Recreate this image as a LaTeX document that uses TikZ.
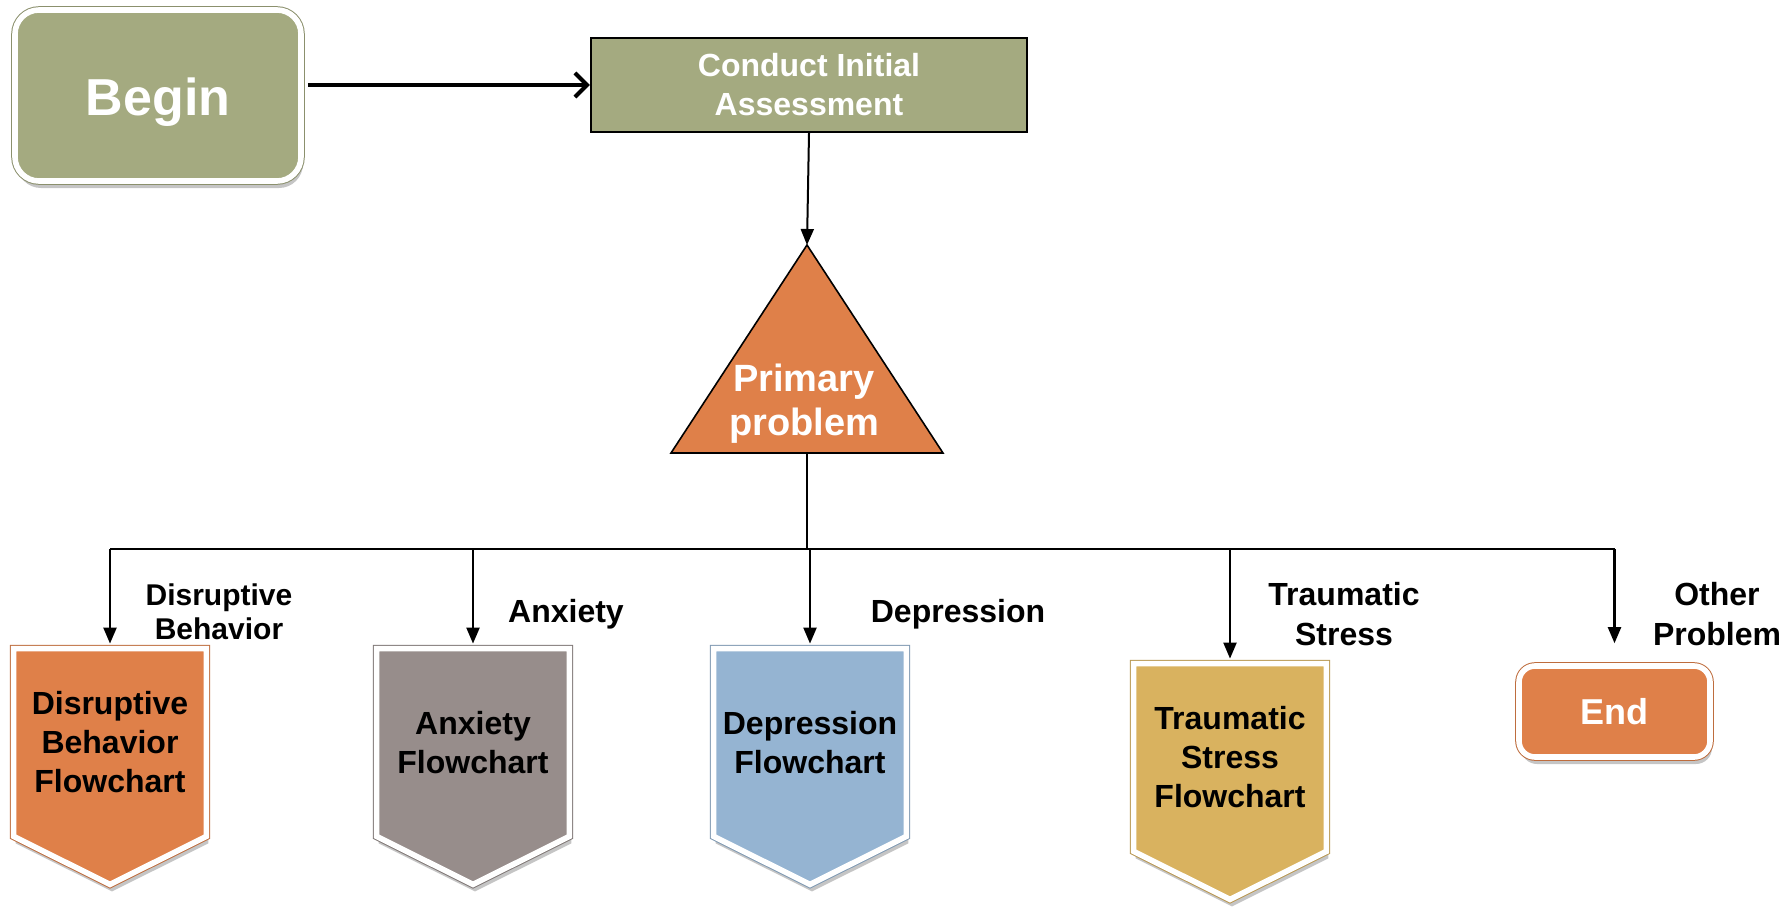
\documentclass[tikz,border=0pt]{standalone}
\usepackage{fontspec}
\setmainfont{Liberation Sans}
\usetikzlibrary{arrows.meta,shadows,calc,backgrounds}

\definecolor{cGreen}{HTML}{A4AA80}
\definecolor{cOrange}{HTML}{DF8049}
\definecolor{cGray}{HTML}{978D8B}
\definecolor{cBlue}{HTML}{95B4D2}
\definecolor{cGold}{HTML}{D9B25F}

\begin{document}
\begin{tikzpicture}[x=0.5pt,y=-0.5pt,
  framed/.style={fill=#1, draw=white, line width=2.8pt,
    drop shadow={opacity=0.5, fill=black!45, shadow xshift=1pt, shadow yshift=-3.5pt},
    preaction={draw=#1!85!black, line width=3.8pt}},
  wire/.style={line width=1.1pt},
  tip/.style={-{Triangle[length=8pt,width=6.5pt]}},
  whitetxt/.style={text=white, align=center},
  lbl/.style={align=center, font=\fontsize{16}{20}\selectfont\bfseries},
  shieldtxt/.style={minimum width=96pt, minimum height=93.5pt, inner sep=0pt,
    align=center, font=\fontsize{16}{19.5}\selectfont\bfseries}]

\useasboundingbox (0,0) rectangle (1789,906);

% start and assessment
\node[framed=cGreen, rounded corners=12pt, minimum width=143pt, minimum height=85.5pt,
  whitetxt, font=\fontsize{26}{30}\selectfont\bfseries] (begin) at (158,95.5)
  {\raisebox{-3pt}[14pt][0pt]{Begin}};
\node[fill=cGreen, draw=black, line width=1.2pt, minimum width=218pt, minimum height=47pt,
  whitetxt, font=\fontsize{16}{19.5}\selectfont\bfseries] (cia) at (809,85) {Conduct Initial\\Assessment};

% decision triangle (geometry holder + text)
\node[minimum width=136pt, minimum height=104pt, inner sep=0pt, outer sep=0pt] (tri) at (807,349) {};
\node[whitetxt, font=\fontsize{19}{22}\selectfont\bfseries] (ptxt) at (804,404) {Primary\\problem};

% outcome shields
\node[shieldtxt] (dis) at (110,742.5) {Disruptive\\Behavior\\Flowchart};
\node[shieldtxt] (anx) at (473,742.5) {Anxiety\\Flowchart};
\node[shieldtxt] (dep) at (810,742.5) {Depression\\Flowchart};
\node[shieldtxt] (tra) at (1230,757.5) {Traumatic\\Stress\\Flowchart};
\node[framed=cOrange, rounded corners=8pt, minimum width=95.5pt, minimum height=45.5pt,
  whitetxt, font=\fontsize{18}{22}\selectfont\bfseries] (endn) at (1614.5,711.5) {End};

% branch labels
\node[lbl, font=\fontsize{15}{17}\selectfont\bfseries] (l1) at (219,612) {Disruptive\\Behavior};
\node[lbl] (l2) at (566,614) {Anxiety};
\node[lbl] (l3) at (958,614) {Depression};
\node[lbl] (l4) at (1344,614) {Traumatic\\Stress};
\node[lbl] (l5) at (1717,614) {Other\\Problem};

\begin{scope}[on background layer]
  \foreach \n/\c in {dis/cOrange, anx/cGray, dep/cBlue, tra/cGold}
    \path[framed=\c] (\n.north west) -- (\n.north east) -- (\n.south east)
      -- ($(\n.south)+(0,48)$) -- (\n.south west) -- cycle;
  \path[fill=cOrange, draw=black, line width=0.8pt]
    (tri.south west) -- (tri.south east) -- (tri.north) -- cycle;
\end{scope}

% connectors
\draw[line width=2pt, shorten <=2pt, -{Straight Barb[length=6pt,width=12pt]}]
  (begin.east |- cia.west) -- (cia.west);
\draw[line width=1pt, tip] (cia.south) -- (tri.north);
\coordinate (bus) at (807,549);
\draw[wire] (tri.south) -- (bus);
\draw[wire] (dis.north |- bus) -- (endn.north |- bus);
\foreach \n in {dis,anx,dep,tra}
  \draw[wire, tip, shorten >=2.5pt] (\n.north |- bus) -- (\n.north);
\draw[wire, tip, shorten >=10pt] (endn.north |- bus) -- (endn.north);

\end{tikzpicture}
\end{document}
